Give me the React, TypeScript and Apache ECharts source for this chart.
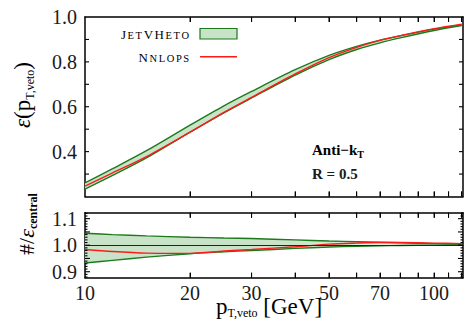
import React, { useEffect, useRef } from 'react';
import * as echarts from 'echarts';

const pt = [10, 12, 15, 20, 25, 30, 40, 50, 60, 70, 80, 100, 120];
const jetUpper = [0.261, 0.324, 0.404, 0.518, 0.604, 0.668, 0.765, 0.829, 0.869, 0.897, 0.916, 0.946, 0.965];
const jetLower = [0.233, 0.294, 0.372, 0.487, 0.573, 0.639, 0.741, 0.81, 0.855, 0.885, 0.907, 0.94, 0.962];
const nnlops = [0.246, 0.305, 0.378, 0.487, 0.575, 0.642, 0.746, 0.819, 0.865, 0.896, 0.917, 0.948, 0.968];
const ratioUpper = [1.045, 1.04, 1.035, 1.03, 1.027, 1.025, 1.02, 1.016, 1.013, 1.011, 1.009, 1.006, 1.003];
const ratioLower = [0.933, 0.943, 0.955, 0.968, 0.975, 0.98, 0.988, 0.993, 0.996, 0.998, 0.999, 1.0, 1.0];
const ratioNnlops = [0.984, 0.976, 0.97, 0.969, 0.978, 0.984, 0.994, 1.004, 1.008, 1.01, 1.01, 1.008, 1.006];

const xTickValues = [20, 30, 40, 50, 60, 70, 80, 90, 100, 110, 120];
const xLabelValues = [10, 20, 30, 50, 70, 100];
const topYLabels = [0.4, 0.6, 0.8, 1.0];
const topYTicks = [0.3, 0.4, 0.5, 0.6, 0.7, 0.8, 0.9];
const bottomYLabels = [0.9, 1.0, 1.1];
const bottomMinorTicks = [0.88, 0.89, 0.91, 0.92, 0.93, 0.94, 0.96, 0.97, 0.98, 0.99, 1.01, 1.02, 1.03, 1.04, 1.06, 1.07, 1.08, 1.09, 1.11, 1.12];
const bottomMajorTicks = [0.9, 0.95, 1.0, 1.05, 1.1];

const X_MIN = 10;
const X_MAX = 121;
const TOP_Y = [0.2, 1.0];
const BOT_Y = [0.8775, 1.1225];

const SERIF = "'Liberation Serif', 'DejaVu Serif', serif";
const GREEN = '#1c7a1c';
const FILL = '#c9e3c9';
const RED = '#ff1a1a';
const TXT = '#1a1a1a';

function pairs(xs: number[], ys: number[]) {
  return xs.map((x, i) => [x, ys[i]]);
}

function bandSeries(xIdx: number, yIdx: number, hi: number[], lo: number[], fill: any) {
  return {
    type: 'custom', xAxisIndex: xIdx, yAxisIndex: yIdx, silent: true, clip: true, z: 1,
    data: pairs(pt, hi), encode: { x: 0, y: 1 },
    renderItem: (params: any, api: any) => {
      if (params.dataIndex !== 0) return null;
      const up = pt.map((x, i) => api.coord([x, hi[i]]));
      const dn = pt.map((x, i) => api.coord([x, lo[i]])).reverse();
      return { type: 'polygon', shape: { points: up.concat(dn) }, style: { fill, stroke: 'none' } };
    },
  };
}

function lineSeries(xIdx: number, yIdx: number, ys: number[], color: string, extra: any = {}) {
  return {
    type: 'line', xAxisIndex: xIdx, yAxisIndex: yIdx, data: pairs(pt, ys), smooth: 0.3,
    symbol: 'none', z: 3, lineStyle: { color, width: 1.4 }, silent: true, ...extra,
  };
}

// tick marks on the x edges (bottom and top of a panel)
function xTickSeries(xIdx: number, yIdx: number, yr: number[], len: number) {
  return {
    type: 'custom', xAxisIndex: xIdx, yAxisIndex: yIdx, silent: true, z: 6,
    data: xTickValues.map((v) => [v, yr[0]]), encode: { x: 0, y: 1 },
    renderItem: (params: any, api: any) => {
      const b = api.coord([api.value(0), yr[0]]);
      const t = api.coord([api.value(0), yr[1]]);
      const st = { stroke: '#000', lineWidth: 1.1 };
      return {
        type: 'group',
        children: [
          { type: 'line', shape: { x1: b[0], y1: b[1], x2: b[0], y2: b[1] - len }, style: st },
          { type: 'line', shape: { x1: t[0], y1: t[1], x2: t[0], y2: t[1] + len }, style: st },
        ],
      };
    },
  };
}

// tick marks on the y edges (left and right of a panel)
function yTickSeries(xIdx: number, yIdx: number, vals: number[], len: number) {
  return {
    type: 'custom', xAxisIndex: xIdx, yAxisIndex: yIdx, silent: true, z: 6,
    data: vals.map((v) => [X_MIN, v]), encode: { x: 0, y: 1 },
    renderItem: (params: any, api: any) => {
      const l = api.coord([X_MIN, api.value(1)]);
      const r = api.coord([X_MAX, api.value(1)]);
      const st = { stroke: '#000', lineWidth: 1.1 };
      return {
        type: 'group',
        children: [
          { type: 'line', shape: { x1: l[0], y1: l[1], x2: l[0] + len, y2: l[1] }, style: st },
          { type: 'line', shape: { x1: r[0], y1: r[1], x2: r[0] - len, y2: r[1] }, style: st },
        ],
      };
    },
  };
}

export default function App() {
  const ref = useRef<HTMLDivElement>(null);
  useEffect(() => {
    document.body.style.margin = '0';
    const chart = echarts.init(ref.current!, null, { renderer: 'svg' });

    const lineStyle = { color: '#000', width: 1.5 };
    const xAxisDef = (grid: number, pos: 'top' | 'bottom', labels: boolean) => ({
      gridIndex: grid, type: 'log', logBase: 10, min: X_MIN, max: X_MAX, position: pos,
      axisLine: { show: true, onZero: false, lineStyle },
      splitLine: { show: false },
      axisTick: { show: true, inside: true, length: 5, customValues: xTickValues, lineStyle: { color: '#000', width: 1 } },
      axisLabel: labels
        ? { show: true, customValues: xLabelValues, fontFamily: SERIF, fontSize: 20, color: TXT, margin: 5 }
        : { show: false },
    });
    const yAxisDef = (grid: number, pos: 'left' | 'right', yr: number[], labels: number[] | null) => ({
      gridIndex: grid, type: 'value', min: yr[0], max: yr[1], position: pos,
      axisLine: { show: true, onZero: false, lineStyle },
      splitLine: { show: false },
      axisTick: { show: false },
      axisLabel: labels
        ? { show: true, customValues: labels, formatter: (v: number) => v.toFixed(1), fontFamily: SERIF, fontSize: 20, color: TXT, margin: 8 }
        : { show: false },
    });

    const richSC = {
      c: { fontFamily: SERIF, fontSize: 13, lineHeight: 14, verticalAlign: 'bottom', color: TXT, padding: [0, 0.8, 0, 0.8] },
      s: { fontFamily: SERIF, fontSize: 10.5, lineHeight: 11, verticalAlign: 'bottom', color: TXT, padding: [0, 0.8, 0, 0.8] },
    };

    const ratioFill = new echarts.graphic.LinearGradient(0, 0, 1, 0, [
      { offset: 0, color: FILL },
      { offset: 0.55, color: FILL },
      { offset: 0.8, color: '#e2f0e2' },
      { offset: 1, color: '#edf6ed' },
    ]);

    const option: any = {
      animation: false,
      grid: [
        { left: 85, top: 17, right: 1, height: 179.5, show: false },
        { left: 85, top: 212.7, right: 1, height: 65, show: false },
      ],
      xAxis: [xAxisDef(0, 'bottom', false), xAxisDef(0, 'top', false), xAxisDef(1, 'bottom', true), xAxisDef(1, 'top', false)],
      yAxis: [
        yAxisDef(0, 'left', TOP_Y, topYLabels),
        yAxisDef(0, 'right', TOP_Y, null),
        yAxisDef(1, 'left', BOT_Y, bottomYLabels),
        yAxisDef(1, 'right', BOT_Y, null),
      ],
      series: [
        bandSeries(0, 0, jetUpper, jetLower, FILL),
        lineSeries(0, 0, jetUpper, GREEN),
        lineSeries(0, 0, jetLower, GREEN),
        lineSeries(0, 0, nnlops, RED),
        bandSeries(2, 2, ratioUpper, ratioLower, ratioFill),
        lineSeries(2, 2, ratioUpper, GREEN, {
          markLine: { silent: true, symbol: 'none', label: { show: false }, lineStyle: { color: '#222', width: 1, type: 'solid' }, data: [{ yAxis: 1.0 }] },
        }),
        lineSeries(2, 2, ratioLower, GREEN),
        lineSeries(2, 2, ratioNnlops, RED),
        xTickSeries(0, 0, TOP_Y, 5),
        yTickSeries(0, 0, topYTicks, 4),
        xTickSeries(2, 2, BOT_Y, 5),
        yTickSeries(2, 2, bottomMinorTicks, 2.5),
        yTickSeries(2, 2, bottomMajorTicks, 5),
      ],
      graphic: [
        { type: 'text', z: 100, x: 190, y: 34, style: { text: '{c|J}{s|E}{s|T}{c|V}{c|H}{s|E}{s|T}{s|O}', align: 'right', verticalAlign: 'middle', rich: richSC } },
        { type: 'rect', z: 100, shape: { x: 200, y: 28.5, width: 37, height: 10.5 }, style: { fill: FILL, stroke: GREEN, lineWidth: 1.2 } },
        { type: 'text', z: 100, x: 190, y: 57, style: { text: '{c|N}{s|N}{s|L}{s|O}{s|P}{s|S}', align: 'right', verticalAlign: 'middle', rich: richSC } },
        { type: 'line', z: 100, shape: { x1: 200, y1: 56.7, x2: 237, y2: 56.7 }, style: { stroke: RED, lineWidth: 1.4 } },
        {
          type: 'text', z: 100, x: 312, y: 150,
          style: {
            text: '{b|Anti\u2212k}{s|T}', align: 'left', verticalAlign: 'middle',
            rich: {
              b: { fontFamily: SERIF, fontSize: 15, fontWeight: 'bold', lineHeight: 18, color: TXT },
              s: { fontFamily: SERIF, fontSize: 10, fontWeight: 'bold', lineHeight: 10, verticalAlign: 'bottom', color: TXT },
            },
          },
        },
        { type: 'text', z: 100, x: 312, y: 174, style: { text: 'R = 0.5', align: 'left', verticalAlign: 'middle', fontFamily: SERIF, fontSize: 15, fontWeight: 'bold', fill: TXT } },
        {
          type: 'text', z: 100, x: 22, y: 95, rotation: Math.PI / 2,
          style: {
            text: '{e|\u03b5}{p|(p}{s|T,veto}{p|)}', align: 'center', verticalAlign: 'middle',
            rich: {
              e: { fontFamily: SERIF, fontSize: 23, fontStyle: 'italic', lineHeight: 28, color: TXT },
              p: { fontFamily: SERIF, fontSize: 23, lineHeight: 28, color: TXT },
              s: { fontFamily: SERIF, fontSize: 12, lineHeight: 12, verticalAlign: 'bottom', color: TXT },
            },
          },
        },
        {
          type: 'text', z: 100, x: 26, y: 224, rotation: Math.PI / 2,
          style: {
            text: '{p|#/}{e|\u03b5}{s|central}', align: 'center', verticalAlign: 'middle',
            rich: {
              e: { fontFamily: SERIF, fontSize: 22, fontStyle: 'italic', lineHeight: 26, color: TXT },
              p: { fontFamily: SERIF, fontSize: 22, lineHeight: 26, color: TXT },
              s: { fontFamily: SERIF, fontSize: 12, fontWeight: 'bold', lineHeight: 12, verticalAlign: 'bottom', color: TXT },
            },
          },
        },
        {
          type: 'text', z: 100, x: 269, y: 306,
          style: {
            text: '{p|p}{s|T,veto}{p| [GeV]}', align: 'center', verticalAlign: 'middle',
            rich: {
              p: { fontFamily: SERIF, fontSize: 23, lineHeight: 26, color: TXT },
              s: { fontFamily: SERIF, fontSize: 12, lineHeight: 12, verticalAlign: 'bottom', color: TXT },
            },
          },
        },
      ],
    };
    chart.setOption(option);
    return () => chart.dispose();
  }, []);
  return <div ref={ref} style={{ width: 464, height: 324 }} />;
}
